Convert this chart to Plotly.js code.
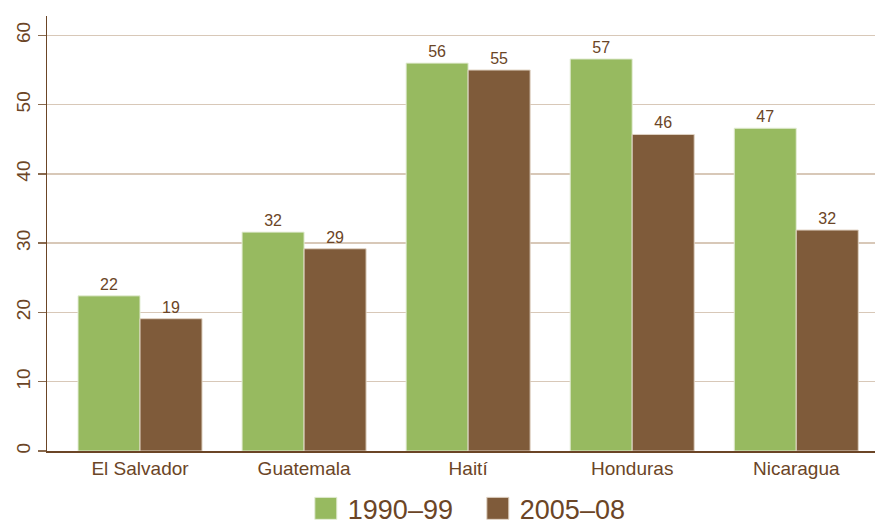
<!DOCTYPE html>
<html>
<head>
<meta charset="utf-8">
<script src="https://cdn.plot.ly/plotly-3.0.1.min.js"></script>
<style>
  html, body { margin: 0; padding: 0; background: #fff; }
  #chart { width: 875px; height: 524px; }
</style>
</head>
<body>
<div id="chart"></div>
<script>
// Countries along the x axis
const countries = ['El Salvador', 'Guatemala', 'Haití', 'Honduras', 'Nicaragua'];
// Period series
const period1Name = '1990–99';
const period1Values = [22.4, 31.6, 56.0, 56.6, 46.6];
const period2Name = '2005–08';
const period2Values = [19.1, 29.2, 55.0, 45.7, 31.9];
// Y axis ticks
const yTicks = [0, 10, 20, 30, 40, 50, 60];

const textColor = '#6B4526';
const fontFamily = 'Liberation Sans, Arial, Helvetica, sans-serif';

const barCommon = {
  type: 'bar',
  texttemplate: '%{y:.0f}',
  textposition: 'outside',
  cliponaxis: false,
  textfont: { family: fontFamily, size: 16, color: textColor },
  hoverinfo: 'x+y'
};

const traces = [
  Object.assign({}, barCommon, {
    name: period1Name,
    x: countries,
    y: period1Values,
    marker: { color: '#97BA60', line: { color: '#E4EDD6', width: 1 } }
  }),
  Object.assign({}, barCommon, {
    name: period2Name,
    x: countries,
    y: period2Values,
    marker: { color: '#7F5B3A', line: { color: '#E0D3C4', width: 1 } }
  })
];

const layout = {
  width: 875,
  height: 524,
  margin: { l: 47, r: 0, t: 16, b: 73, autoexpand: false },
  paper_bgcolor: '#ffffff',
  plot_bgcolor: '#ffffff',
  font: { family: fontFamily, color: textColor },
  barmode: 'group',
  bargap: 0.244,
  bargroupgap: 0,
  showlegend: true,
  legend: {
    orientation: 'h',
    x: 0.315,
    xanchor: 'left',
    xref: 'paper',
    yref: 'container',
    y: 0.029,
    yanchor: 'middle',
    entrywidth: 127,
    font: { family: fontFamily, size: 27, color: textColor },
    itemwidth: 30
  },
  xaxis: {
    type: 'category',
    range: [-0.567, 4.48],
    showline: true,
    linecolor: '#6B4526',
    linewidth: 1.5,
    ticks: '',
    tickfont: { family: fontFamily, size: 19, color: textColor },
    showgrid: false,
    zeroline: false,
    automargin: false
  },
  yaxis: {
    range: [0, 62.8],
    tickvals: yTicks,
    ticktext: yTicks.map(String),
    tickangle: -90,
    ticks: 'outside',
    ticklen: 8,
    tickwidth: 1.5,
    tickcolor: '#8A6A4E',
    showline: true,
    linecolor: '#6B4526',
    linewidth: 1.5,
    showgrid: true,
    gridcolor: '#D8C8B8',
    gridwidth: 1.5,
    zeroline: false,
    automargin: false,
    tickfont: { family: fontFamily, size: 19, color: textColor }
  }
};

Plotly.newPlot('chart', traces, layout, { displayModeBar: false, staticPlot: true }).then(function (gd) {
  // larger square legend swatches, leaving a small gap before the label
  gd.querySelectorAll('.legend .legendpoints path').forEach(function (p) {
    p.setAttribute('d', 'M9,11H-13V-11H9Z');
  });
});
</script>
</body>
</html>
